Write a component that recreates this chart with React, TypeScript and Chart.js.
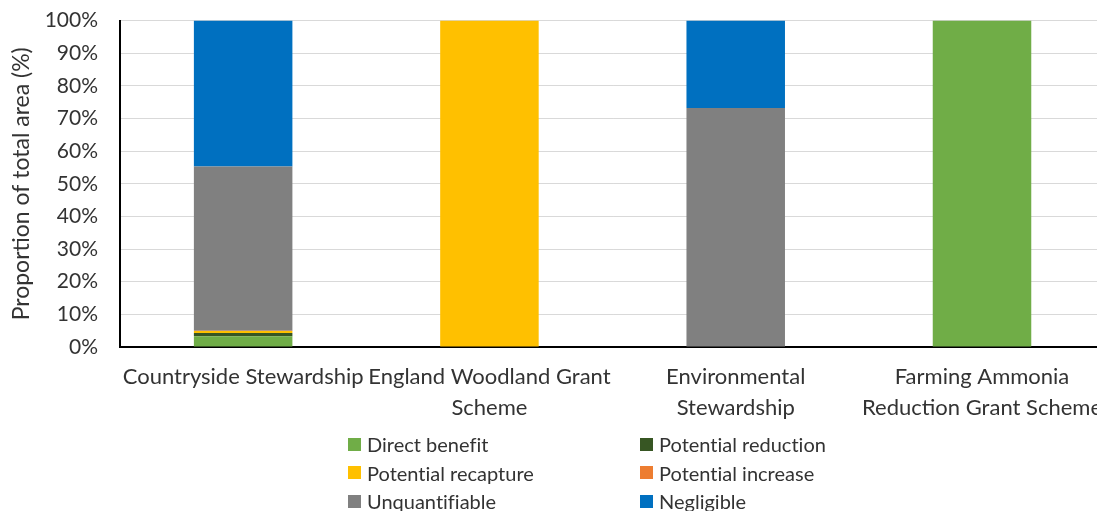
import React, { useEffect, useRef } from "react";
import { Chart, registerables } from "chart.js";

Chart.register(...registerables);

// Schemes along the x axis (multi-line labels)
const categories: string[][] = [
  ["Countryside Stewardship"],
  ["England Woodland Grant", "Scheme"],
  ["Environmental", "Stewardship"],
  ["Farming Ammonia", "Reduction Grant Scheme"],
];

// Share of total area (%) per effect class, stacked bottom to top
const directBenefit = [3.3, 0, 0, 100];
const potentialReduction = [1.0, 0, 0, 0];
const potentialRecapture = [0.6, 100, 0, 0];
const potentialIncrease = [0.1, 0, 0, 0];
const unquantifiable = [50.3, 0, 73.2, 0];
const negligible = [44.7, 0, 26.8, 0];

const seriesNames = [
  "Direct benefit",
  "Potential reduction",
  "Potential recapture",
  "Potential increase",
  "Unquantifiable",
  "Negligible",
];
const seriesValues = [
  directBenefit,
  potentialReduction,
  potentialRecapture,
  potentialIncrease,
  unquantifiable,
  negligible,
];
const seriesColors = ["#70AD47", "#375623", "#FFC000", "#ED7D31", "#808080", "#0070C0"];

const yTicks = [0, 10, 20, 30, 40, 50, 60, 70, 80, 90, 100];
const yTitle = "Proportion of total area (%)";

const FONT = "Lato, 'Noto Sans', sans-serif";
const TEXT = "#333333";

export default function App() {
  const canvasRef = useRef<HTMLCanvasElement | null>(null);

  useEffect(() => {
    const canvas = canvasRef.current;
    if (!canvas) return;
    const chart = new Chart(canvas, {
      type: "bar",
      data: {
        labels: categories,
        datasets: seriesNames.map((name, i) => ({
          label: name,
          data: seriesValues[i],
          backgroundColor: seriesColors[i],
          borderWidth: 0,
          barPercentage: 0.4,
          categoryPercentage: 1,
        })),
      },
      options: {
        responsive: false,
        animation: false,
        layout: { padding: { top: 0, right: 0, left: 0, bottom: 0 } },
        plugins: {
          legend: { display: false },
          tooltip: { enabled: false },
        },
        scales: {
          x: {
            stacked: true,
            grid: { display: false, drawTicks: false },
            border: { display: true, color: "#000000", width: 2 },
            ticks: {
              color: TEXT,
              font: { family: FONT, size: 22, lineHeight: "31px" },
              maxRotation: 0,
              minRotation: 0,
              autoSkip: false,
              padding: 14,
            },
          },
          y: {
            stacked: true,
            min: 0,
            max: 100,
            afterBuildTicks: (scale: any) => {
              scale.ticks = yTicks.map((v) => ({ value: v }));
            },
            afterFit: (scale: any) => {
              scale.width = 120;
            },
            grid: { color: "#D9D9D9", lineWidth: 1, drawTicks: false },
            border: { display: true, color: "#000000", width: 2 },
            ticks: {
              color: TEXT,
              font: { family: FONT, size: 21 },
              padding: 22,
              callback: (v: any) => `${v}%`,
            },
            title: {
              display: true,
              text: yTitle,
              color: TEXT,
              font: { family: FONT, size: 23 },
              padding: { top: 8, bottom: 0 },
            },
          },
        },
      },
    });
    return () => chart.destroy();
  }, []);

  return (
    <div
      style={{
        position: "absolute",
        left: 0,
        top: 0,
        width: 1097,
        height: 511,
        overflow: "hidden",
        background: "#ffffff",
      }}
    >
      <canvas
        ref={canvasRef}
        width={1116}
        height={451}
        style={{ display: "block", position: "absolute", left: 0, top: -14 }}
      />
      <div
        style={{
          position: "absolute",
          left: 348,
          top: 430,
          display: "grid",
          gridTemplateColumns: "292px auto",
          gridAutoRows: "28.5px",
          fontFamily: FONT,
          fontSize: 20,
          fontVariantLigatures: "none",
          color: TEXT,
        }}
      >
        {seriesNames.map((name, i) => (
          <div key={name} style={{ display: "flex", alignItems: "center", whiteSpace: "nowrap" }}>
            <span
              style={{
                display: "inline-block",
                width: 13,
                height: 13,
                background: seriesColors[i],
                marginRight: 6,
              }}
            />
            <span>{name}</span>
          </div>
        ))}
      </div>
    </div>
  );
}
